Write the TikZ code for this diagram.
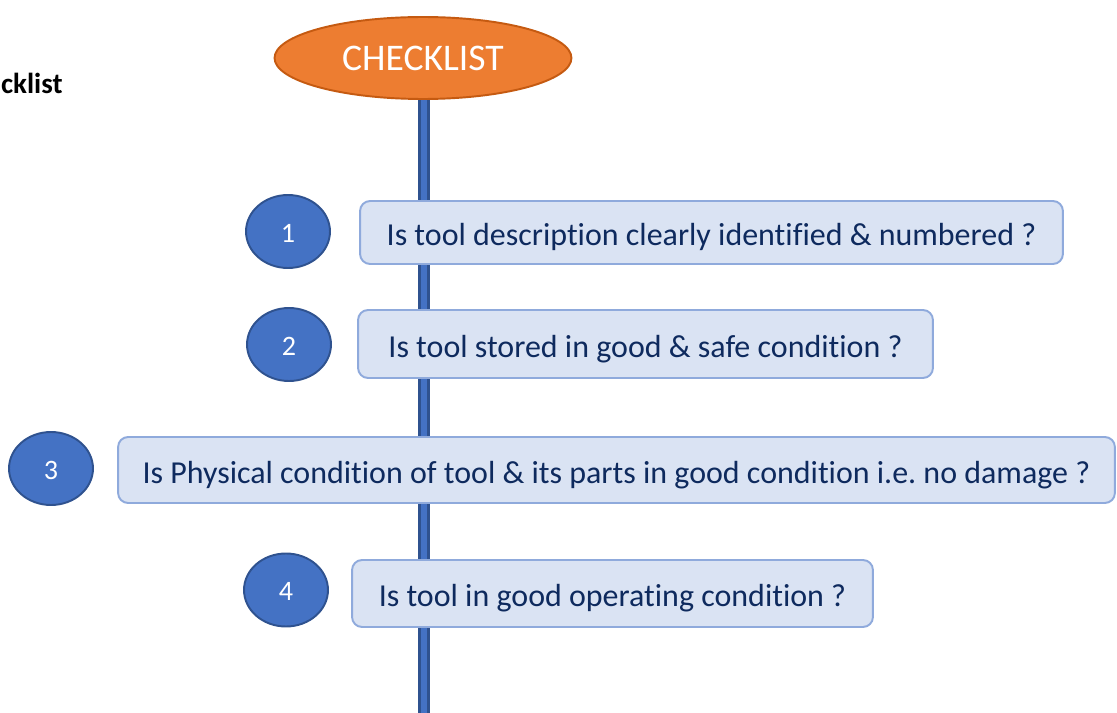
\documentclass[tikz,border=0pt]{standalone}
\usepackage{fontspec}
\setmainfont{Carlito}[Ligatures=NoCommon]
\usetikzlibrary{shapes.geometric}
\frenchspacing

\definecolor{chkorange}{HTML}{ED7D31}
\definecolor{chkorangeline}{HTML}{C55A11}
\definecolor{numblue}{HTML}{4472C4}
\definecolor{numblueline}{HTML}{2F528F}
\definecolor{qfill}{HTML}{DAE3F3}
\definecolor{qline}{HTML}{8FAADC}
\definecolor{qtext}{HTML}{0E2A5E}

\tikzset{
  numdot/.style={ellipse, draw=numblueline, fill=numblue, line width=1.1pt,
    minimum width=1.68cm, minimum height=1.46cm, inner sep=0pt,
    text height=12pt, text depth=0pt,
    text=white, font=\fontsize{16}{18}\selectfont},
  question/.style={rectangle, rounded corners=0.2cm, draw=qline, fill=qfill,
    line width=1.1pt, minimum height=1.32cm, inner sep=0pt,
    text height=15pt, text depth=0pt,
    text=qtext, font=\fontsize{18.2}{21}\selectfont}
}

\begin{document}
\begin{tikzpicture}[x=0.02cm, y=-0.02cm]
  \useasboundingbox (0,0) rectangle (1117,713);

  % heading at the left edge
  \node[anchor=base east, inner sep=0pt, font=\fontsize{16.5}{19}\selectfont\bfseries] (head) at (63,94) {cklist};

  % title
  \node[ellipse, draw=chkorangeline, fill=chkorange, line width=1.1pt,
        minimum width=5.94cm, minimum height=1.64cm, inner sep=0pt,
        text=white, font=\fontsize{21.4}{24}\selectfont] (title) at (423,58) {CHECKLIST};

  % spine
  \coordinate (spineend) at (424,713);
  \draw[line width=6.6pt, numblueline] (title.south -| spineend) -- (spineend);
  \draw[line width=3.8pt, numblue] (title.south -| spineend) -- (spineend);

  % steps
  \node[numdot] (n1) at (288,231.5) {1};
  \node[question, minimum width=14.06cm, minimum height=1.26cm] (q1) at (711.5,232.5)
    {Is tool description clearly identified \& numbered ?};

  \node[numdot] (n2) at (289,344.5) {2};
  \node[question, minimum width=11.5cm, minimum height=1.36cm] (q2) at (645.5,344)
    {Is tool stored in good \& safe condition ?};

  \node[numdot] (n3) at (51,468.5) {3};
  \node[question, minimum width=19.94cm] (q3) at (616.5,470)
    {Is Physical condition of tool \& its parts in good condition i.e. no damage ?};

  \node[numdot] (n4) at (286,590) {4};
  \node[question, minimum width=10.42cm, minimum height=1.34cm] (q4) at (612.5,593.5)
    {Is tool in good operating condition ?};
\end{tikzpicture}
\end{document}
